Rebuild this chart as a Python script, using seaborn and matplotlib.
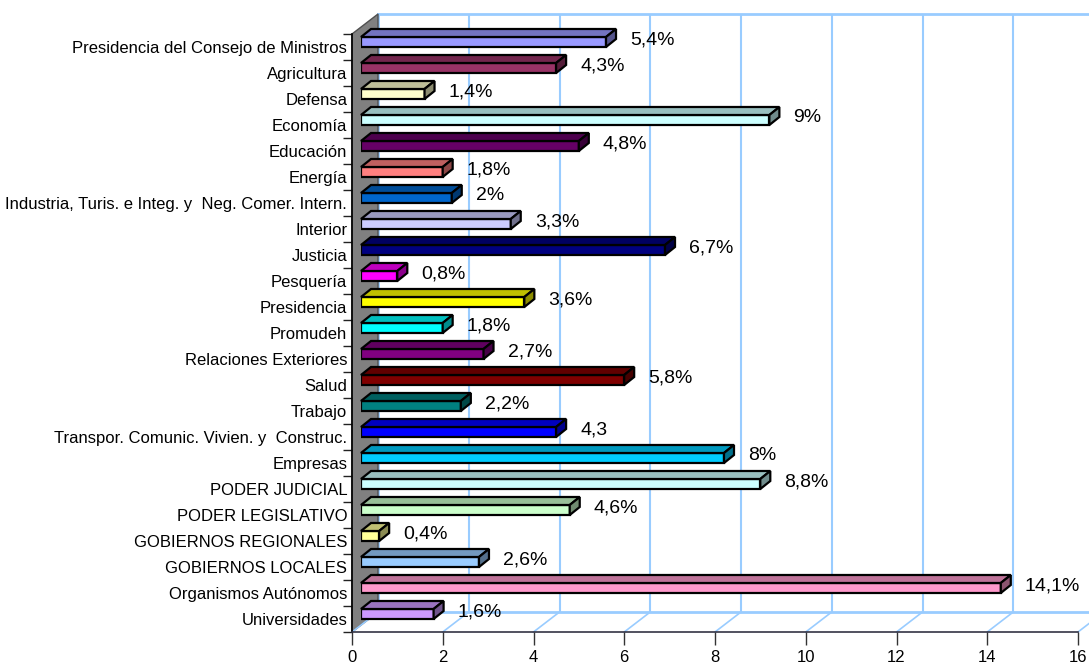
import numpy as np
import matplotlib
matplotlib.use("Agg")
import matplotlib.pyplot as plt
import seaborn as sns
import pandas as pd
from matplotlib.patches import Polygon
from matplotlib.lines import Line2D
from matplotlib.transforms import IdentityTransform
from matplotlib.colors import to_rgb

# ---------------- data ----------------
categories = [
    "Presidencia del Consejo de Ministros", "Agricultura", "Defensa", "Economía",
    "Educación", "Energía", "Industria, Turis. e Integ. y  Neg. Comer. Intern.",
    "Interior", "Justicia", "Pesquería", "Presidencia", "Promudeh",
    "Relaciones Exteriores", "Salud", "Trabajo",
    "Transpor. Comunic. Vivien. y  Construc.", "Empresas", "PODER JUDICIAL",
    "PODER LEGISLATIVO", "GOBIERNOS REGIONALES", "GOBIERNOS LOCALES",
    "Organismos Autónomos", "Universidades",
]
values = [5.4, 4.3, 1.4, 9.0, 4.8, 1.8, 2.0, 3.3, 6.7, 0.8, 3.6, 1.8, 2.7, 5.8,
          2.2, 4.3, 8.0, 8.8, 4.6, 0.4, 2.6, 14.1, 1.6]
value_labels = ["5,4%", "4,3%", "1,4%", "9%", "4,8%", "1,8%", "2%", "3,3%",
                "6,7%", "0,8%", "3,6%", "1,8%", "2,7%", "5,8%", "2,2%", "4,3",
                "8%", "8,8%", "4,6%", "0,4%", "2,6%", "14,1%", "1,6%"]
bar_colors = ["#9999FF", "#993366", "#FFFFCC", "#CCFFFF", "#660066", "#FF8080",
              "#0066CC", "#CCCCFF", "#000080", "#FF00FF", "#FFFF00", "#00FFFF",
              "#800080", "#800000", "#008080", "#0000FF", "#00CCFF", "#CCFFFF",
              "#CCFFCC", "#FFFF99", "#99CCFF", "#FF99CC", "#CC99FF"]
x_ticks = [0, 2, 4, 6, 8, 10, 12, 14, 16]

df = pd.DataFrame({"category": categories, "value": values})

# ---------------- style ----------------
sns.set_theme(style="white")
plt.rcParams['font.family'] = ['Liberation Sans', 'DejaVu Sans']
plt.rcParams['text.color'] = 'black'

W, H = 1089, 667
fig = plt.figure(figsize=(W / 100, H / 100), dpi=100)
fig.patch.set_facecolor("white")

def frac(left, top, right, bottom):
    return [left / W, 1 - bottom / H, (right - left) / W, (bottom - top) / H]

GRID = "#99CCFF"
n = len(categories)
XMAX = 16

# back wall (offset for 3D depth)
ax_back = fig.add_axes(frac(378, 14, 1104, 612), zorder=0)
ax_back.set_xlim(0, XMAX)
ax_back.set_ylim(0, 1)
ax_back.set_xticks(x_ticks)
ax_back.set_yticks([])
ax_back.grid(axis="x", color=GRID, lw=1.5)
ax_back.tick_params(length=0, labelbottom=False)
for s in ["top", "left", "bottom"]:
    ax_back.spines[s].set_color(GRID)
    ax_back.spines[s].set_linewidth(2)
ax_back.spines["right"].set_visible(False)

# front plane with axes
ax = fig.add_axes(frac(352, 34, 1078, 632), zorder=1)
ax.set_facecolor("none")
ax.set_xlim(0, XMAX)
ax.set_ylim(n - 0.5, -0.5)
ax.set_xticks(x_ticks)
ax.set_xticklabels([str(t) for t in x_ticks], fontsize=12)
ax.set_yticks(np.arange(n))
ax.set_yticklabels(categories, fontsize=12)
ax.set_yticks(np.arange(n + 1) - 0.5, minor=True)
ax.tick_params(axis="y", which="major", length=0, pad=3.5, left=True,
               labelcolor="black")
ax.tick_params(axis="y", which="minor", length=6.5, width=1, color="#222222", left=True)
ax.tick_params(axis="x", which="major", length=9, width=1, color="#333333",
               bottom=True, direction="out", pad=4, labelcolor="black")
ax.grid(False)
for s in ["top", "right"]:
    ax.spines[s].set_visible(False)
ax.spines["left"].set_color("black")
ax.spines["left"].set_linewidth(1.2)
ax.spines["bottom"].set_color("#333344")
ax.spines["bottom"].set_linewidth(1.2)

# bar plane (slightly inside the depth)
ax_bar = fig.add_axes(frac(361, 29, 1087, 627), zorder=2)
ax_bar.set_facecolor("none")
sns.barplot(data=df, x="value", y="category", hue="category", palette=bar_colors,
            legend=False, orient="h", width=0.385, saturation=1,
            edgecolor="black", linewidth=1.6, ax=ax_bar)
ax_bar.set_xlim(0, XMAX)
ax_bar.set_ylim(n - 0.5, -0.5)
ax_bar.axis("off")

# gray left wall and floor lines
p0 = ax.transAxes.transform((0, 0))
p1 = ax.transAxes.transform((0, 1))
b1 = ax_back.transAxes.transform((0, 1))
b0 = ax_back.transAxes.transform((0, 0))
fig.add_artist(Polygon([p0, p1, b1, b0], closed=True, facecolor="#808080",
                       edgecolor="#505050", lw=1, transform=IdentityTransform(),
                       zorder=0.5))
for t in x_ticks:
    f = ax.transData.transform((t, n - 0.5))
    b = ax_back.transData.transform((t, 0))
    fig.add_artist(Line2D([f[0], b[0]], [f[1], b[1]], color=GRID, lw=1.2,
                          transform=IdentityTransform(), zorder=0.5))

# 3D faces of the bars
DX, DY = 10, 8
for p in ax_bar.patches:
    w = p.get_width()
    if w <= 0:
        continue
    x0, y0 = p.get_x(), p.get_y()
    c1 = ax_bar.transData.transform((x0, y0))
    c2 = ax_bar.transData.transform((x0 + w, y0 + p.get_height()))
    xL, xR = min(c1[0], c2[0]), max(c1[0], c2[0])
    yB, yT = min(c1[1], c2[1]), max(c1[1], c2[1])
    rgb = np.array(to_rgb(p.get_facecolor()))
    top = Polygon([(xL, yT), (xR, yT), (xR + DX, yT + DY), (xL + DX, yT + DY)],
                  closed=True, facecolor=rgb * 0.75, edgecolor="black", lw=1.6,
                  transform=IdentityTransform(), clip_on=False, zorder=3)
    side = Polygon([(xR, yB), (xR, yT), (xR + DX, yT + DY), (xR + DX, yB + DY)],
                   closed=True, facecolor=rgb * 0.55, edgecolor="black", lw=1.6,
                   transform=IdentityTransform(), clip_on=False, zorder=3)
    ax_bar.add_artist(top)
    ax_bar.add_artist(side)

# value labels
for i, (v, lab) in enumerate(zip(values, value_labels)):
    ax_bar.annotate(lab, xy=(v, i), xytext=(24, 2), textcoords="offset pixels",
                    ha="left", va="center", fontsize=14, color="black",
                    annotation_clip=False, zorder=4)

fig.savefig("out.png", dpi=100, facecolor="white")
